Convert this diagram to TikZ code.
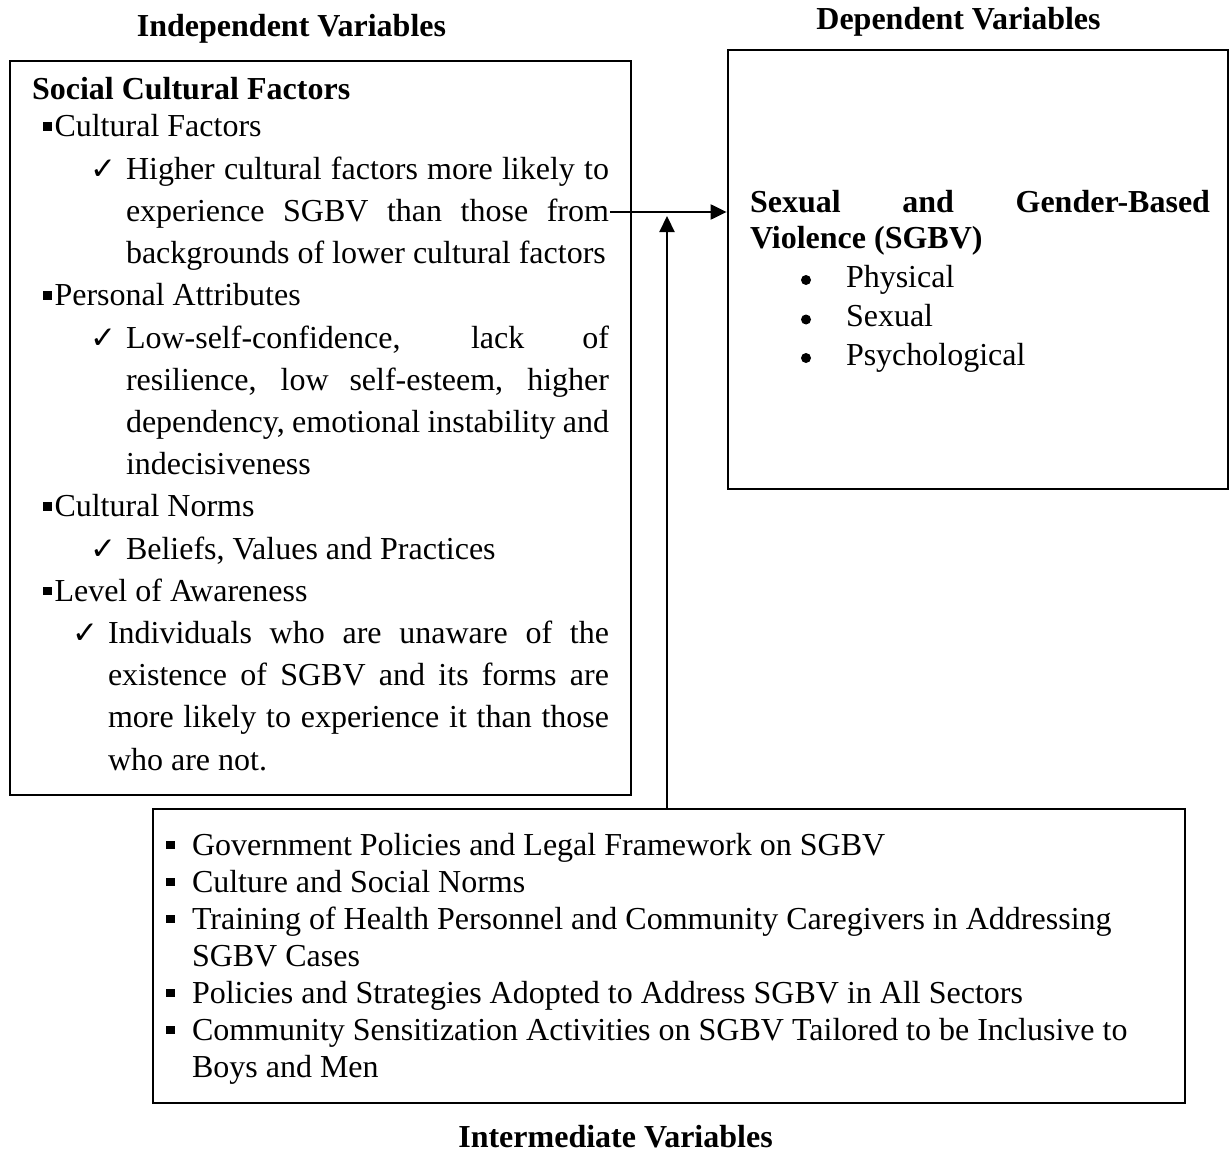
\documentclass[tikz,border=0pt]{standalone}
\usepackage{fontspec}
\setmainfont{Liberation Serif}
\newfontfamily\symfont{DejaVu Sans}
\usetikzlibrary{arrows.meta}
\newcommand\sqb{\rule[6pt]{8.5pt}{8.5pt}}
\newcommand\chk{{\symfont\fontsize{31}{31}\selectfont ✓}}
\newcommand\jl[2]{\makebox[#1][s]{#2}}
\tikzset{
  txt/.style={inner sep=0pt, outer sep=0pt, anchor=base west, font=\fontsize{32}{38}\selectfont},
  hdr/.style={inner sep=0pt, outer sep=0pt, anchor=base, font=\fontsize{32}{38}\selectfont\bfseries},
  hdrl/.style={hdr, anchor=base west},
  box/.style={draw, line width=2.8pt, inner sep=0pt},
  arr/.style={line width=2.2pt, -{Triangle[length=16pt,width=15pt]}},
  dot/.style={fill=black}
}
\begin{document}
\begin{tikzpicture}[x=1pt,y=-1pt]
\useasboundingbox (0,0) rectangle (1229,1153);

% boxes
\node[box, minimum width=621pt, minimum height=734pt] (indep) at (320.5,428) {};
\node[box, minimum width=500pt, minimum height=439pt] (dep) at (978,269.5) {};
\node[box, minimum width=1032pt, minimum height=294pt] (inter) at (669,956) {};

% headers
\node[hdr] (ivh) at (291.5,36.5) {Independent Variables};
\node[hdr] (dvh) at (958.5,30) {Dependent Variables};
\node[hdr] (imh) at (615.5,1147) {Intermediate Variables};

% left box content
\node[hdrl] (scf) at (32,100) {Social Cultural Factors};
\node[txt] (cf) at (43,137) {\sqb\hspace{3pt}Cultural Factors};
\node[txt] (c1) at (90,179.2) {\makebox[36pt][l]{\chk}\jl{483pt}{Higher cultural factors more likely to}};
\node[txt] (c1b) at (126,221.4) {\jl{483pt}{experience SGBV than those from}};
\node[txt] (c1c) at (126,263.6) {backgrounds of lower cultural factors};
\node[txt] (pa) at (43,305.8) {\sqb\hspace{3pt}Personal Attributes};
\node[txt] (c2) at (90,348) {\makebox[36pt][l]{\chk}\jl{483pt}{Low-self-confidence, lack of}};
\node[txt] (c2b) at (126,390.2) {\jl{483pt}{resilience, low self-esteem, higher}};
\node[txt] (c2c) at (126,432.4) {\jl{483pt}{dependency, emotional instability and}};
\node[txt] (c2d) at (126,474.6) {indecisiveness};
\node[txt] (cn) at (43,516.8) {\sqb\hspace{3pt}Cultural Norms};
\node[txt] (c3) at (90,559) {\makebox[36pt][l]{\chk}Beliefs, Values and Practices};
\node[txt] (la) at (43,601.2) {\sqb\hspace{3pt}Level of Awareness};
\node[txt] (c4) at (72,643.4) {\makebox[36pt][l]{\chk}\jl{501pt}{Individuals who are unaware of the}};
\node[txt] (c4b) at (108,685.6) {\jl{501pt}{existence of SGBV and its forms are}};
\node[txt] (c4c) at (108,727.8) {\jl{501pt}{more likely to experience it than those}};
\node[txt] (c4d) at (108,770) {who are not.};

% right box content
\node[hdrl] (sg1) at (750,212) {\jl{460pt}{Sexual and Gender-Based}};
\node[hdrl] (sg2) at (750,248) {Violence (SGBV)};
\fill[dot] (806,280) circle (5pt);
\fill[dot] (806,319.5) circle (5pt);
\fill[dot] (806,358) circle (5pt);
\node[txt] (r1) at (846,287) {Physical};
\node[txt] (r2) at (846,326.5) {Sexual};
\node[txt] (r3) at (846,365) {Psychological};

% bottom box content
\node[txt] (g1) at (166,855) {\makebox[26pt][l]{\sqb}Government Policies and Legal Framework on SGBV};
\node[txt] (g2) at (166,892) {\makebox[26pt][l]{\sqb}Culture and Social Norms};
\node[txt] (g3) at (166,929) {\makebox[26pt][l]{\sqb}Training of Health Personnel and Community Caregivers in Addressing};
\node[txt] (g3b) at (192,966) {SGBV Cases};
\node[txt] (g4) at (166,1003) {\makebox[26pt][l]{\sqb}Policies and Strategies Adopted to Address SGBV in All Sectors};
\node[txt] (g5) at (166,1040) {\makebox[26pt][l]{\sqb}Community Sensitization Activities on SGBV Tailored to be Inclusive to};
\node[txt] (g5b) at (192,1077) {Boys and Men};

% connectors
\coordinate (hs) at (610,212);
\draw[arr] (hs) -- (hs -| dep.west);
\coordinate (vt) at (667,216);
\draw[arr] (vt |- inter.north) -- (vt);
\end{tikzpicture}
\end{document}
